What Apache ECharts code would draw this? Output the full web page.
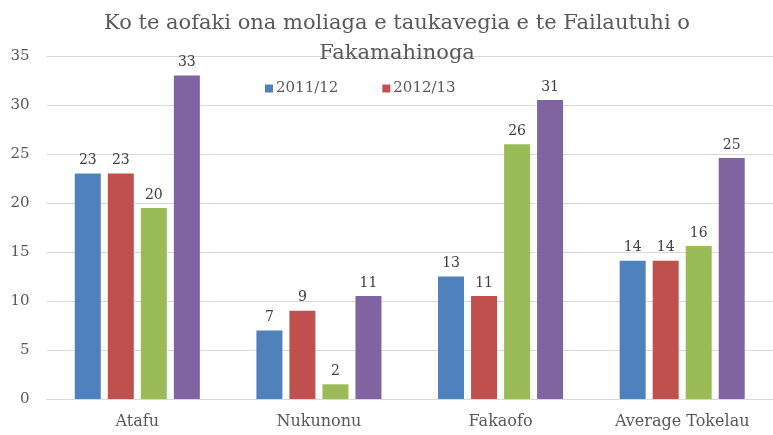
<!DOCTYPE html>
<html>
<head>
<meta charset="utf-8">
<script src="https://cdn.jsdelivr.net/npm/echarts@6/dist/echarts.min.js"></script>
<style>html,body{margin:0;padding:0;background:#fff;}#c{width:773px;height:435px;}</style>
</head>
<body>
<div id="c"></div>
<script>
var titleText = 'Ko te aofaki ona moliaga e taukavegia e te Failautuhi o\nFakamahinoga';
var categories = ['Atafu', 'Nukunonu', 'Fakaofo', 'Average Tokelau'];
var seriesNames = ['2011/12', '2012/13', '2013/14', '2014/15'];
var values2011 = [23, 7, 12.5, 14.1];
var values2012 = [23, 9, 10.5, 14.1];
var values2013 = [19.5, 1.5, 26, 15.6];
var values2014 = [33, 10.5, 30.5, 24.6];
var yTicks = [0, 5, 10, 15, 20, 25, 30, 35];

var colors = ['#4F81BD', '#C0504D', '#9BBB59', '#8064A2'];
var FONT = 'DejaVu Serif';
var chart = echarts.init(document.getElementById('c'));
var allValues = [values2011, values2012, values2013, values2014];
var series = allValues.map(function (vals, i) {
  return {
    name: seriesNames[i],
    type: 'bar',
    data: vals,
    barWidth: 26,
    barGap: '27%',
    itemStyle: { color: colors[i] },
    label: {
      show: true,
      position: 'top',
      distance: 6,
      color: '#404040',
      fontFamily: FONT,
      fontSize: 14,
      formatter: function (p) { return Math.round(p.value); }
    }
  };
});
chart.setOption({
  animation: false,
  title: {
    text: titleText,
    left: 392,
    textAlign: 'center',
    top: 4,
    textStyle: { fontFamily: FONT, fontSize: 21, fontWeight: 'normal', color: '#595959', lineHeight: 30 }
  },
  legend: {
    data: seriesNames.slice(0, 2),
    left: 260,
    top: 76,
    itemWidth: 8,
    itemHeight: 8,
    itemGap: 44,
    icon: 'rect',
    textStyle: { fontFamily: FONT, fontSize: 15, color: '#595959', padding: [0, 0, 0, -2] }
  },
  grid: { left: 46.5, top: 56, width: 732, height: 343, containLabel: false },
  xAxis: {
    type: 'category',
    data: categories,
    axisLine: { lineStyle: { color: '#d9d9d9', width: 1 } },
    axisTick: { show: false },
    axisLabel: { interval: 0, fontFamily: FONT, fontSize: 16, color: '#595959', margin: 15 }
  },
  yAxis: {
    type: 'value',
    min: yTicks[0],
    max: yTicks[yTicks.length - 1],
    interval: 5,
    axisLine: { show: false },
    axisTick: { show: false },
    axisLabel: { fontFamily: FONT, fontSize: 15, color: '#595959', margin: 17 },
    splitLine: { lineStyle: { color: '#d9d9d9', width: 1 } }
  },
  series: series
});
</script>
</body>
</html>
